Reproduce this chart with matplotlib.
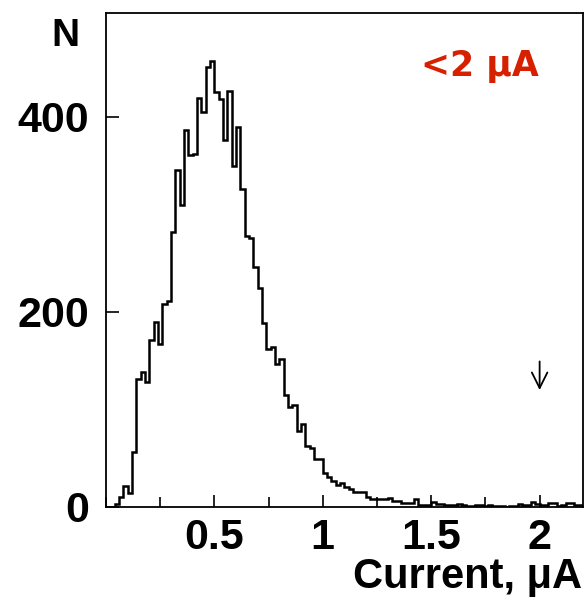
import numpy as np
import matplotlib
matplotlib.use("Agg")
import matplotlib.pyplot as plt
from matplotlib.ticker import MultipleLocator

# histogram of current, bin width 0.02 uA from 0 to 2.2
x_lo, x_hi = 0.0, 2.2
counts = [
    0, 0, 3, 10, 22, 14, 56, 131, 138, 128,
    171, 190, 167, 208, 211, 282, 345, 309, 386, 361,
    362, 419, 405, 451, 457, 425, 418, 376, 426, 349,
    389, 326, 278, 276, 246, 224, 189, 162, 164, 147,
    152, 115, 102, 105, 78, 85, 62, 60, 49, 49,
    35, 31, 27, 23, 25, 21, 18, 15, 15, 15,
    10, 8, 8, 8, 8, 9, 6, 6, 4, 4,
    4, 8, 2, 2, 2, 5, 3, 3, 2, 2,
    2, 3, 2, 1, 1, 2, 2, 1, 2, 1,
    1, 1, 0, 1, 1, 3, 2, 2, 5, 3,
    2, 2, 4, 4, 1, 2, 4, 4, 2, 2,
]
x_ticks = [0.5, 1, 1.5, 2]
x_tick_labels = ["0.5", "1", "1.5", "2"]
y_ticks = [0, 200, 400]
cut_value = 2.0
arrow_from, arrow_to = 152, 117
cut_label = "<2 \u03bcA"

plt.rcParams['font.family'] = ['Liberation Sans', 'DejaVu Sans']

fig = plt.figure(figsize=(5.88, 6.0), dpi=100)
ax = fig.add_axes([0.180, 0.155, 0.8115, 0.823])

edges = np.linspace(x_lo, x_hi, len(counts) + 1)
ax.stairs(counts, edges, baseline=0, color='black', linewidth=1.8)

ax.set_xlim(x_lo, x_hi)
ax.set_ylim(0, 506)

ax.set_xticks(x_ticks)
ax.set_xticklabels(x_tick_labels)
ax.xaxis.set_minor_locator(MultipleLocator(0.25))
ax.set_yticks(y_ticks)
ax.tick_params(axis='both', which='both', direction='in', width=1.2)
ax.tick_params(axis='x', which='major', length=9, pad=8)
ax.tick_params(axis='x', which='minor', length=7)
ax.tick_params(axis='y', which='major', length=9, pad=12)
for lbl in ax.get_xticklabels() + ax.get_yticklabels():
    lbl.set_fontsize(31)
    lbl.set_fontweight('bold')

for sp in ax.spines.values():
    sp.set_linewidth(1.3)

# arrow marking the cut
ax.annotate('', xy=(cut_value, arrow_to), xytext=(cut_value, arrow_from),
            arrowprops=dict(arrowstyle='->', color='black', lw=1.3,
                            mutation_scale=28))

ax.text(0.784, 0.893, cut_label, transform=ax.transAxes, color='#d62000',
        fontsize=25, fontweight='bold', family='DejaVu Sans',
        ha='center', va='center')

fig.text(0.112, 0.94, 'N', fontsize=28, fontweight='bold',
         ha='center', va='center')
fig.text(0.99, 0.038, 'Current, \u03bcA', fontsize=30, fontweight='bold',
         ha='right', va='center')

fig.savefig('out.png', dpi=100)
